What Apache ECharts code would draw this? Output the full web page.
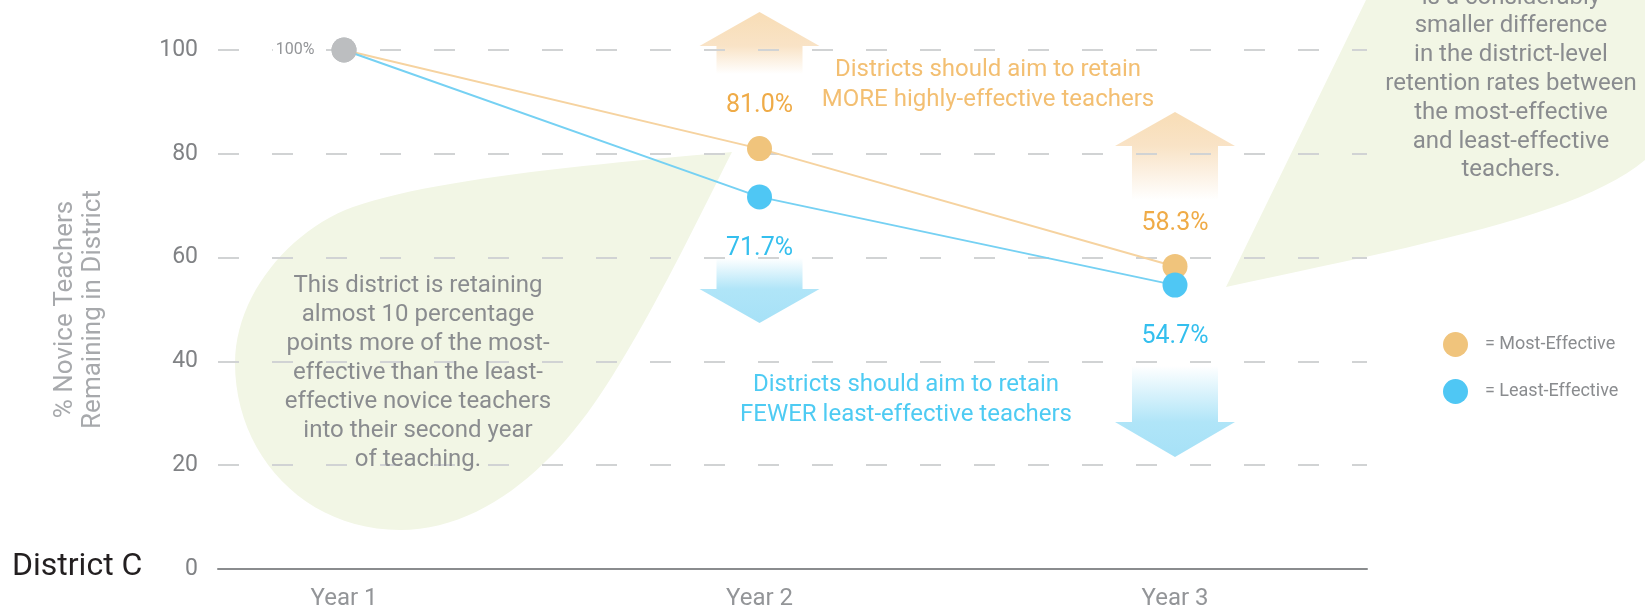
<!DOCTYPE html>
<html>
<head>
<meta charset="utf-8">
<title>District C - novice teacher retention</title>
<script src="https://cdn.jsdelivr.net/npm/echarts@6.0.0/dist/echarts.min.js"></script>
<style>
  html, body { margin: 0; padding: 0; background: #fff; }
  #chart { width: 1645px; height: 611px; }
</style>
</head>
<body>
<div id="chart"></div>
<script>
// values (labels give the exact numbers)
const years = ['Year 1', 'Year 2', 'Year 3'];
const mostEffective = [100, 81.0, 58.3];
const leastEffective = [100, 71.7, 54.7];
const yTicks = [0, 20, 40, 60, 80, 100];

const FONT = 'Roboto, "Open Sans", sans-serif';
const GRAY_TEXT = '#8a8c8f';
const ORANGE = '#F0C47C';
const BLUE = '#4FC7F4';
const START_GRAY = '#BCBEC0';

const chart = echarts.init(document.getElementById('chart'));

function pct(p) {
  const v = p.value[1];
  return (p.dataIndex === 0 ? Math.round(v) : v.toFixed(1)) + '%';
}

function toPoints(values) {
  return values.map((v, i) => [i, v]);
}

const mostData = toPoints(mostEffective).map((d, i) => i === 0 ? {
  value: d,
  itemStyle: { color: START_GRAY },
  label: {
    position: 'left', distance: 14, color: '#939598', fontSize: 16,
    backgroundColor: '#fff', padding: [2, 3]
  }
} : d);
const leastData = toPoints(leastEffective).map((d, i) => i === 0 ? {
  value: d,
  itemStyle: { color: START_GRAY },
  label: { show: false }
} : d);

const option = {
  animation: false,
  textStyle: { fontFamily: FONT },
  grid: { left: 218, right: 278, top: 50, bottom: 40 },
  legend: {
    orient: 'vertical',
    left: 1438, top: 327,
    icon: 'circle',
    itemWidth: 25, itemHeight: 25, itemGap: 22,
    formatter: '= {name}',
    textStyle: { color: GRAY_TEXT, fontSize: 18, padding: [0, 0, 0, 12] },
    data: ['Most-Effective', 'Least-Effective']
  },
  xAxis: {
    type: 'value',
    min: -0.3033, max: years.length - 1 + 0.4621,
    z: 3,
    axisLine: { show: true, lineStyle: { color: '#8a8c8e', width: 2 } },
    axisTick: { show: false },
    splitLine: { show: false },
    axisLabel: {
      customValues: years.map((y, i) => i),
      formatter: (v) => years[Math.round(v)],
      color: '#939598', fontSize: 24, margin: 18
    }
  },
  yAxis: {
    type: 'value',
    min: yTicks[0], max: yTicks[yTicks.length - 1], interval: yTicks[1] - yTicks[0],
    name: '% Novice Teachers\nRemaining in District',
    nameLocation: 'middle', nameRotate: 90, nameGap: 111,
    nameTextStyle: { color: '#a7a9ac', fontSize: 26, lineHeight: 28 },
    axisLine: { show: false },
    axisTick: { show: false },
    axisLabel: { color: '#808285', fontSize: 23, margin: 20 },
    splitLine: { lineStyle: { color: '#D1D3D4', width: 2, type: [21, 33] } }
  },
  series: [
    {
      name: 'Most-Effective',
      type: 'line',
      data: mostData,
      symbol: 'circle', symbolSize: 25,
      itemStyle: { color: ORANGE },
      lineStyle: { color: '#F6D3A0', width: 2 },
      label: { show: true, position: 'top', distance: 18, color: '#EFAB47', fontSize: 25, formatter: pct },
      emphasis: { disabled: true },
      z: 3
    },
    {
      name: 'Least-Effective',
      type: 'line',
      data: leastData,
      symbol: 'circle', symbolSize: 25,
      itemStyle: { color: BLUE },
      lineStyle: { color: '#76D1F3', width: 2 },
      label: { show: true, position: 'bottom', distance: 27, color: '#34BFEE', fontSize: 25, formatter: pct },
      emphasis: { disabled: true },
      z: 4
    }
  ]
};
chart.setOption(option);

// ---- annotations: speech bubbles, arrows, notes ----
function bezierPath(start, segs) {
  const pts = [start];
  let p0 = start;
  segs.forEach(([c1, c2, p3]) => {
    for (let k = 1; k <= 24; k++) {
      const t = k / 24, u = 1 - t;
      pts.push([
        u * u * u * p0[0] + 3 * u * u * t * c1[0] + 3 * u * t * t * c2[0] + t * t * t * p3[0],
        u * u * u * p0[1] + 3 * u * u * t * c1[1] + 3 * u * t * t * c2[1] + t * t * t * p3[1]
      ]);
    }
    p0 = p3;
  });
  return pts;
}

const leftBubble = bezierPath([732, 152], [
  [[580, 165], [430, 180], [353, 207]],
  [[290, 230], [235, 295], [235, 363]],
  [[235, 455], [305, 530], [400, 530]],
  [[480, 530], [550, 470], [600, 395]],
  [[650, 320], [700, 215], [732, 152]]
]);
const rightBubble = [[1226, 287], [1366, 0], [1645, 0]].concat(
  bezierPath([1645, 160], [[[1580, 215], [1420, 245], [1226, 287]]])
);

const xPix = (i) => chart.convertToPixel({ xAxisIndex: 0 }, i);

function upArrow(i, tip, head, end) {
  const cx = xPix(i);
  return {
    type: 'polygon', z: -1, silent: true,
    shape: { points: [[cx, tip], [cx + 60, head], [cx + 43, head], [cx + 43, end], [cx - 43, end], [cx - 43, head], [cx - 60, head]] },
    style: {
      fill: {
        type: 'linear', x: 0, y: 0, x2: 0, y2: 1,
        colorStops: [
          { offset: 0, color: '#F8DDB6' },
          { offset: (head - tip) / (end - tip), color: '#F9E3C6' },
          { offset: 1, color: '#FFFFFF' }
        ]
      }
    }
  };
}

function downArrow(i, top, head, tip) {
  const cx = xPix(i);
  return {
    type: 'polygon', z: -1, silent: true,
    shape: { points: [[cx - 43, top], [cx + 43, top], [cx + 43, head], [cx + 60, head], [cx, tip], [cx - 60, head], [cx - 43, head]] },
    style: {
      fill: {
        type: 'linear', x: 0, y: 0, x2: 0, y2: 1,
        colorStops: [
          { offset: 0, color: '#FFFFFF' },
          { offset: (head - top) / (tip - top), color: '#B0E5F8' },
          { offset: 1, color: '#A6E1F7' }
        ]
      }
    }
  };
}

function note(text, x, y, color, size, lh, align) {
  return {
    type: 'text', x: x, y: y, z: 5, silent: true,
    style: {
      text: text, fill: color, fontFamily: FONT, fontSize: size, lineHeight: lh,
      align: align || 'center', verticalAlign: 'middle'
    }
  };
}

chart.setOption({
  graphic: [
    { type: 'polygon', z: -2, silent: true, shape: { points: leftBubble }, style: { fill: '#F2F6E5' } },
    { type: 'polygon', z: -2, silent: true, shape: { points: rightBubble }, style: { fill: '#F2F6E5' } },
    upArrow(1, 12, 46, 74),
    upArrow(2, 112, 146, 200),
    downArrow(1, 258, 289, 323),
    downArrow(2, 366, 422, 457),
    note('This district is retaining\nalmost 10 percentage\npoints more of the most-\neffective than the least-\neffective novice teachers\ninto their second year\nof teaching.', 418, 373, GRAY_TEXT, 24, 28.9),
    note('is a considerably\nsmaller difference\nin the district-level\nretention rates between\nthe most-effective\nand least-effective\nteachers.', 1511, 84, GRAY_TEXT, 24, 28.8),
    note('Districts should aim to retain\nMORE highly-effective teachers', 988, 85, '#F3BF72', 24, 29.4),
    note('Districts should aim to retain\nFEWER least-effective teachers', 906, 400, '#4ECBF3', 24, 30),
    note('District C', 12, 567, '#231F20', 32, 36, 'left')
  ]
});
</script>
</body>
</html>
